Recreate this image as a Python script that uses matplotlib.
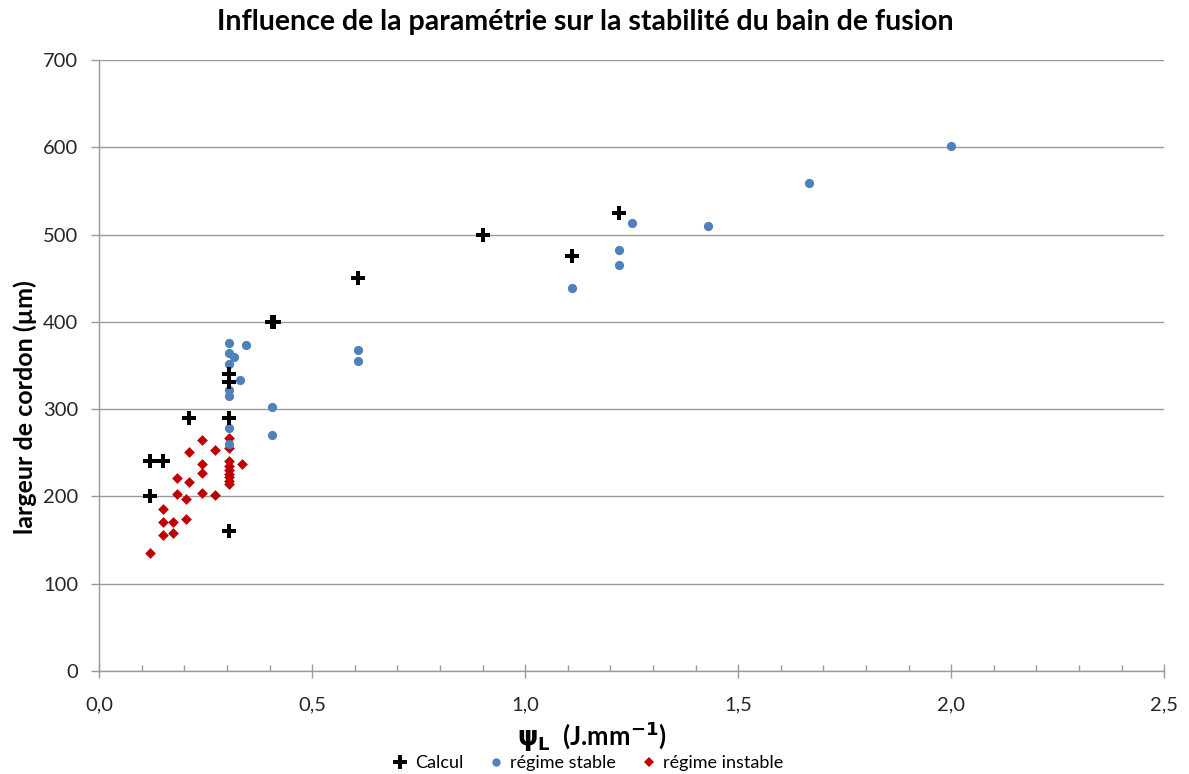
import matplotlib
matplotlib.use("Agg")
import matplotlib.pyplot as plt
from matplotlib.lines import Line2D

plt.rcParams['font.family'] = ['Lato', 'DejaVu Sans']

# Calculated bead widths
calc_x = [0.12, 0.12, 0.15, 0.21, 0.305, 0.305, 0.305, 0.305, 0.405, 0.41, 0.607, 0.90, 1.11, 1.22]
calc_y = [200, 240, 240, 290, 160, 290, 331, 340, 400, 400, 450, 500, 475, 525]

# Stable melt pool regime
stable_x = [0.305, 0.305, 0.305, 0.305, 0.305, 0.305, 0.305, 0.316, 0.330, 0.344,
            0.405, 0.405, 0.607, 0.607, 1.11, 1.22, 1.22, 1.25, 1.43, 1.667, 2.0]
stable_y = [376, 364, 352, 322, 315, 278, 260, 360, 333, 374,
            303, 270, 368, 355, 439, 482, 465, 513, 510, 559, 602]

# Unstable melt pool regime
instable_x = [0.12, 0.15, 0.15, 0.15, 0.174, 0.174, 0.182, 0.182, 0.203, 0.203,
              0.211, 0.211, 0.24, 0.24, 0.24, 0.24, 0.272, 0.272,
              0.305, 0.305, 0.305, 0.305, 0.305, 0.305, 0.305, 0.305, 0.305, 0.335]
instable_y = [135, 156, 171, 186, 158, 171, 203, 221, 174, 197,
              217, 251, 264.5, 237, 227, 203.5, 253, 202,
              266.5, 255, 240, 235, 230, 226, 222, 218, 214, 237.5]

x_ticks = [0.0, 0.5, 1.0, 1.5, 2.0, 2.5]
x_tick_labels = ["0,0", "0,5", "1,0", "1,5", "2,0", "2,5"]
y_ticks = [0, 100, 200, 300, 400, 500, 600, 700]

blue = "#4F81BD"
red = "#C00000"
grid_col = "#9A9A9A"
text_col = "#262626"

fig = plt.figure(figsize=(11.89, 7.74), dpi=100)
ax = fig.add_axes([0.0835, 0.1331, 0.8957, 0.7894])

ax.scatter(instable_x, instable_y, marker="D", s=30, color=red, linewidths=0, zorder=3)
ax.scatter(stable_x, stable_y, marker="o", s=44, color=blue, linewidths=0, zorder=4)
ax.scatter(calc_x, calc_y, marker="P", s=110, color="black", linewidths=0, zorder=5)

ax.set_xlim(0, 2.5)
ax.set_ylim(0, 700)
ax.set_xticks(x_ticks)
ax.set_xticklabels(x_tick_labels)
ax.set_xticks([i / 10 for i in range(26)], minor=True)
ax.set_yticks(y_ticks)

ax.yaxis.grid(True, color=grid_col, linewidth=1.0)
ax.set_axisbelow(True)
for side in ("top", "right"):
    ax.spines[side].set_visible(False)
for side in ("left", "bottom"):
    ax.spines[side].set_color(grid_col)
    ax.spines[side].set_linewidth(1.0)

ax.tick_params(axis="x", which="major", direction="inout", length=10, width=1,
               color=grid_col, labelsize=14.5, labelcolor=text_col, pad=13)
ax.tick_params(axis="x", which="minor", direction="in", length=4.5, width=1, color=grid_col)
ax.tick_params(axis="y", which="major", direction="out", length=6, width=1,
               color=grid_col, labelsize=14.5, labelcolor=text_col, pad=9)

fig.text(0.492, 0.972, "Influence de la paramétrie sur la stabilité du bain de fusion",
         ha="center", va="center", fontsize=20.5, fontweight="bold", color="black")
fig.text(0.021, 0.474, "largeur de cordon (µm)", rotation=90, ha="center", va="center",
         fontsize=18, fontweight="bold", color="black")
fig.text(0.4975, 0.048, r"$\mathbf{\psi_L}$  (J.mm$^{\mathbf{-1}}$)", ha="center", va="center",
         fontsize=18.5, fontweight="bold", color="black")

handles = [
    Line2D([], [], linestyle="none", marker="P", markersize=10, color="black", markeredgewidth=0),
    Line2D([], [], linestyle="none", marker="o", markersize=6, color=blue, markeredgewidth=0),
    Line2D([], [], linestyle="none", marker="D", markersize=5, color=red, markeredgewidth=0),
]
fig.legend(handles, ["Calcul", "régime stable", "régime instable"], loc="center",
           bbox_to_anchor=(0.494, 0.014), ncol=3, frameon=False, fontsize=13,
           handletextpad=0.3, columnspacing=1.3, handlelength=1.0)

fig.savefig("out.png", dpi=100)
